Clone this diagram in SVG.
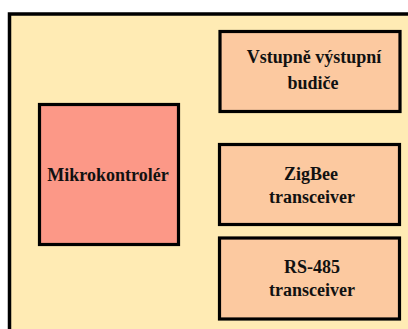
<svg xmlns="http://www.w3.org/2000/svg" width="408" height="329" viewBox="0 0 408 329">
<style>
.box{fill:#FCC9A0;stroke:#000;stroke-width:3.2}
.mcu{fill:#FC9887;stroke:#000;stroke-width:3.2}
.t{font-family:"Liberation Serif","Times New Roman",serif;font-weight:bold;font-size:18px;fill:#111;text-anchor:middle}
</style>
<rect x="0" y="0" width="408" height="329" fill="#fff"/>
<g id="board">
<rect x="9.5" y="14" width="410" height="330" fill="#FFEBB4" stroke="#000" stroke-width="3.5"/>
</g>
<g id="io-drivers">
<rect class="box" x="220" y="31.5" width="180" height="80"/>
<text class="t" x="314" y="63">Vstupně výstupní</text>
<text class="t" x="313" y="89">budiče</text>
</g>
<g id="mcu">
<rect class="mcu" x="39.5" y="104.5" width="139" height="140"/>
<text class="t" x="108" y="181">Mikrokontrolér</text>
</g>
<g id="zigbee">
<rect class="box" x="219.5" y="144.5" width="180" height="80"/>
<text class="t" x="311" y="180">ZigBee</text>
<text class="t" x="312" y="203">transceiver</text>
</g>
<g id="rs485">
<rect class="box" x="219.5" y="238" width="180" height="81"/>
<text class="t" x="312" y="273">RS-485</text>
<text class="t" x="312" y="296">transceiver</text>
</g>
<g id="connectors"></g>
</svg>
